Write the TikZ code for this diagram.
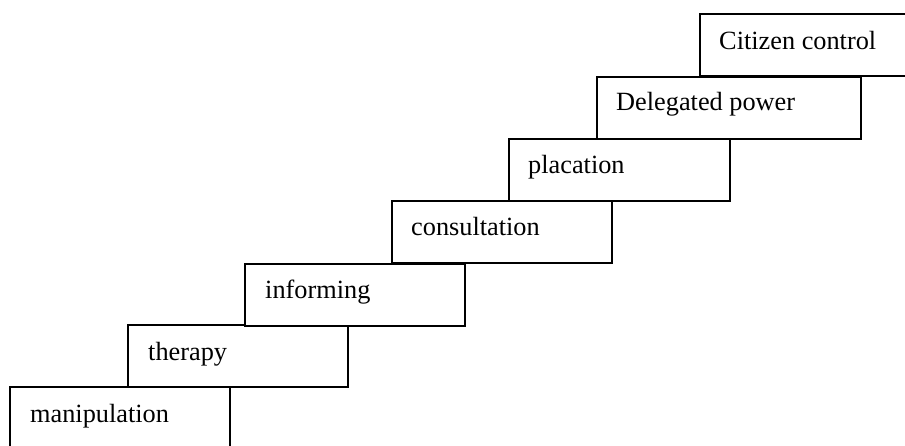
\documentclass[tikz,border=0pt]{standalone}
\usepackage{fontspec}
\setmainfont{Liberation Serif}
\begin{document}
\begin{tikzpicture}[x=1pt,y=-1pt,
  stepbox/.style={draw=black,line width=1.6pt,fill=white,rectangle,inner sep=0pt,
    anchor=north west,minimum height=62pt},
  steptext/.style={anchor=base west,inner sep=0pt,font=\fontsize{26.3}{30}\selectfont}]
\useasboundingbox (0,0) rectangle (905,445);
\clip (0,0) rectangle (905,445);
\node[stepbox,minimum width=220pt] (b1) at (9,386) {};
\node[stepbox,minimum width=220pt] (b2) at (127,324) {};
\node[stepbox,minimum width=220pt] (b3) at (244,263) {};
\node[stepbox,minimum width=220pt] (b4) at (391,200) {};
\node[stepbox,minimum width=221pt] (b5) at (508,138) {};
\node[stepbox,minimum width=264pt] (b6) at (596,76) {};
\node[stepbox,minimum width=230pt] (b7) at (699,13) {};
\node[steptext] (t1) at ([shift={(21,36)}]b1.north west) {manipulation};
\node[steptext] (t2) at ([shift={(21,36)}]b2.north west) {therapy};
\node[steptext] (t3) at ([shift={(21,35)}]b3.north west) {informing};
\node[steptext] (t4) at ([shift={(20,35)}]b4.north west) {consultation};
\node[steptext] (t5) at ([shift={(20,35)}]b5.north west) {placation};
\node[steptext] (t6) at ([shift={(20,34)}]b6.north west) {Delegated power};
\node[steptext] (t7) at ([shift={(20,36)}]b7.north west) {Citizen control};
\end{tikzpicture}
\end{document}
